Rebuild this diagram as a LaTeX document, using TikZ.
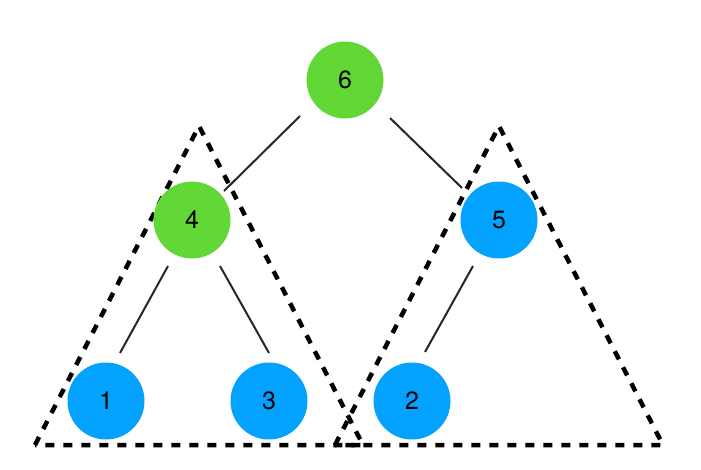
\documentclass[tikz,border=0pt]{standalone}
\usepackage{fontspec}
\setmainfont{TeX Gyre Heros}
\usetikzlibrary{calc}
\begin{document}
\begin{tikzpicture}[x=1pt,y=-1pt,
  vtx/.style={circle,minimum size=77pt,inner sep=0pt,font=\fontsize{25}{28}\selectfont},
  gnode/.style={vtx,fill=treegreen},
  bnode/.style={vtx,fill=treeblue},
  edge/.style={line width=2pt,black!85},
  tri/.style={line width=4.5pt,dash pattern=on 9pt off 9pt,line join=miter}]
\definecolor{treegreen}{HTML}{62D836}
\definecolor{treeblue}{HTML}{03A2FE}
\useasboundingbox (0,0) rectangle (701,469);
\draw[tri] (35,445) -- (199,126) -- (363,445) -- cycle;
\draw[tri] (335,445) -- (499,126) -- (663,445) -- cycle;
\node[gnode] (n6) at (345,80) {6};
\node[gnode] (n4) at (192,220) {4};
\node[bnode] (n5) at (499,220) {5};
\node[bnode] (n1) at (106,401) {1};
\node[bnode] (n3) at (269,401) {3};
\node[bnode] (n2) at (412,401) {2};
\draw[edge] ($(n6)+(-45,36)$) -- ($(n4)+(32,-29)$);
\draw[edge] ($(n6)+(45,38)$) -- ($(n5)+(-37,-32)$);
\draw[edge] ($(n4)+(-24,46)$) -- ($(n1)+(14,-48)$);
\draw[edge] ($(n4)+(28,46)$) -- ($(n3)+(0,-48)$);
\draw[edge] ($(n5)+(-26,46)$) -- ($(n2)+(13,-49)$);
\end{tikzpicture}
\end{document}
